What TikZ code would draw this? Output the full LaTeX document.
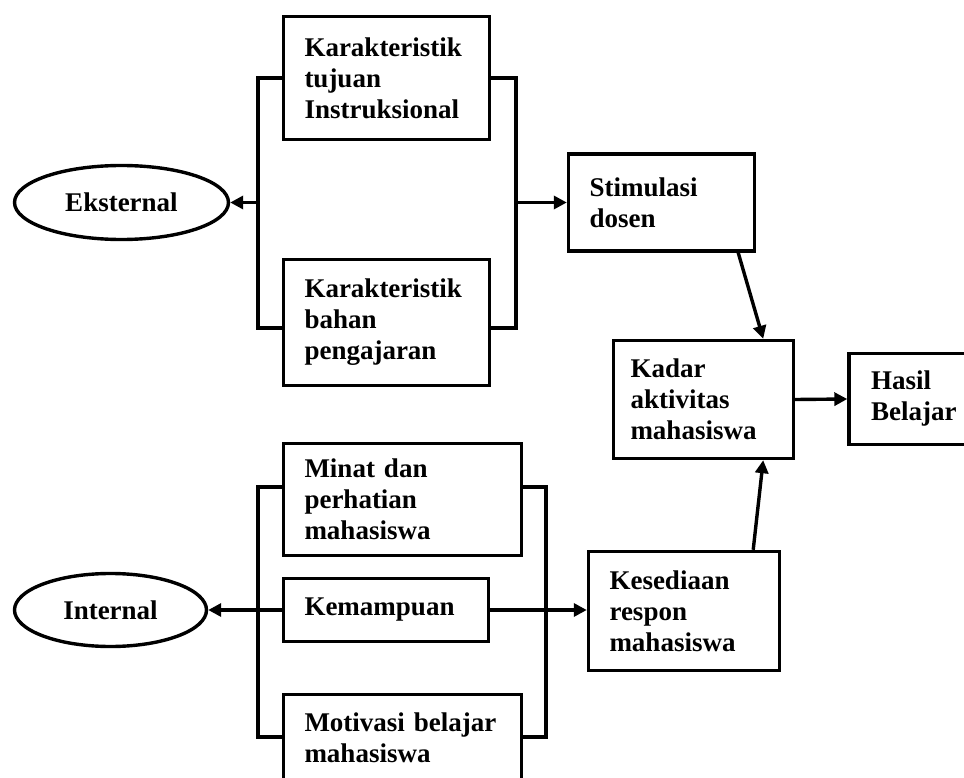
\documentclass[tikz,border=0pt]{standalone}
\usepackage{fontspec}
\setmainfont{Liberation Serif}
\usetikzlibrary{shapes.geometric,arrows.meta,calc}

\begin{document}
\begin{tikzpicture}[x=1pt,y=-1pt,
  kotak/.style={draw,line width=3.4pt,rectangle,inner xsep=21pt,inner ysep=0pt,align=left},
  lonjong/.style={draw,line width=3.4pt,ellipse,inner sep=0pt},
  garis/.style={line width=3.4pt},
  panah/.style={line width=3.4pt,-{Triangle[length=13pt,width=13pt]}},
  font=\fontsize{27}{31}\selectfont\bfseries]
  \clip (0,0) rectangle (964,778);

  % faktor eksternal
  \node[kotak,text width=164pt,minimum height=123pt] (kti) at (386.5,78) {Karakteristik\\tujuan\\Instruksional};
  \node[kotak,text width=164pt,minimum height=126pt] (kbp) at (386.5,322.5) {Karakteristik\\bahan\\pengajaran};
  \node[lonjong,minimum width=214pt,minimum height=74pt] (eks) at (121.5,202.5) {Eksternal};

  \coordinate (b1a) at (258,78);
  \coordinate (b1b) at (258,328);
  \coordinate (b1c) at (516,78);
  \coordinate (b1d) at (516,328);
  \coordinate (b1k) at (258,202.5);
  \coordinate (b1r) at (516,202.5);
  \draw[garis] (kti.west) -- (b1a) -- (b1b) -- (kbp.west |- b1b);
  \draw[garis] (kti.east) -- (b1c) -- (b1d) -- (kbp.east |- b1d);

  % alur kanan
  \node[kotak,text width=144pt,minimum height=97pt] (sti) at (661.5,202.5) {Stimulasi\\dosen};
  \node[kotak,inner xsep=17pt,text width=146pt,minimum height=118pt] (kad) at (703.5,399.5) {Kadar\\aktivitas\\mahasiswa};
  \node[kotak,inner xsep=22pt,text width=86pt,minimum height=91pt] (has) at (914,399) {Hasil\\Belajar};
  \node[kotak,text width=149pt,minimum height=119pt] (kes) at (684,611) {Kesediaan\\respon\\mahasiswa};

  % faktor internal
  \node[kotak,text width=196pt,minimum height=112pt] (mnt) at (402.5,499.5) {Minat dan\\perhatian\\mahasiswa};
  \node[kotak,text width=163pt,minimum height=63pt] (kem) at (386,610) {Kemampuan};
  \node[kotak,text width=196pt,minimum height=86pt] (mot) at (402.5,737.5) {Motivasi belajar\\mahasiswa};
  \node[lonjong,minimum width=192pt,minimum height=73pt] (int) at (110.5,610) {Internal};

  \coordinate (b2a) at (258,487);
  \coordinate (b2b) at (258,737);
  \coordinate (b2c) at (546,487);
  \coordinate (b2d) at (546,737);
  \draw[garis] (mnt.west |- b2a) -- (b2a) -- (b2b) -- (mot.west |- b2b);
  \draw[garis] (mnt.east |- b2c) -- (b2c) -- (b2d) -- (mot.east |- b2d);

  % panah
  \draw[panah] (b1k) -- (eks.east);
  \draw[panah] (b1r) -- (sti.west);
  \draw[panah] (kem.west) -- (int.east);
  \draw[panah] (kem.east) -- (kes.west |- kem.east);
  \draw[panah] ($(sti.south east)+(-18,0)$) -- ($(kad.north east)+(-32,0)$);
  \draw[panah] ($(kes.north east)+(-28,0)$) -- ($(kad.south east)+(-32,0)$);
  \draw[panah] (kad.east) -- (has.west);
\end{tikzpicture}
\end{document}
